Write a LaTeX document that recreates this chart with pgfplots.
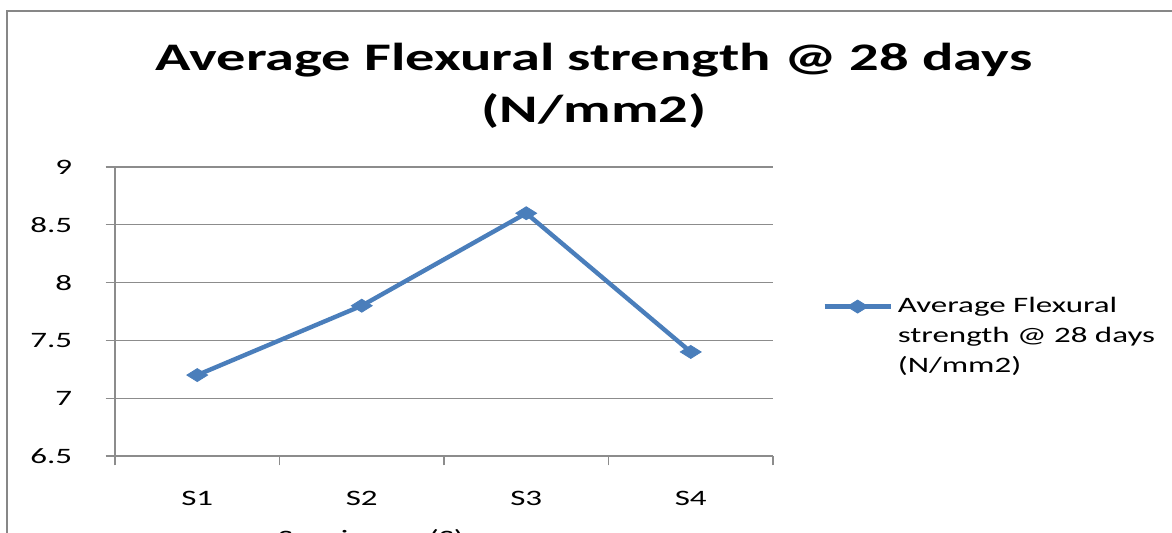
\documentclass[border=0pt]{standalone}
\usepackage{fontspec}
\setmainfont{Carlito}[FakeStretch=1.5]
\usepackage{pgfplots}
\pgfplotsset{compat=1.18}
\definecolor{excelblue}{HTML}{4A7EBB}
\definecolor{framegray}{HTML}{878787}
\definecolor{gridgray}{HTML}{8C8C8C}

\begin{document}
\begin{tikzpicture}
\useasboundingbox (0,0) rectangle (586pt,266.5pt);
\clip (0,0) rectangle (586pt,266.5pt);
% chart frame, cut off at right and bottom
\draw[framegray, line width=1.2pt] (3.5pt,-10pt) |- (600pt,261pt);
\node[anchor=north, align=center, inner sep=0pt,
      font=\bfseries\fontsize{19.5}{26}\selectfont]
  at (297pt,245pt) {Average Flexural strength @ 28 days\\(N/mm2)};

\begin{axis}[
    at={(57.5pt,38.5pt)}, anchor=south west,
    scale only axis, width=329pt, height=144.5pt,
    xmin=0.5, xmax=4.5, ymin=6.5, ymax=9,
    axis x line*=bottom, axis y line*=left,
    axis line style={gridgray, line width=0.6pt},
    xtick={0.5,1.5,2.5,3.5,4.5},
    x tick label as interval,
    xticklabels={S1,S2,S3,S4},
    ytick={6.5,7,7.5,8,8.5,9},
    tick align=outside,
    major tick length=4.75pt,
    tick style={gridgray, line width=0.6pt},
    ymajorgrids,
    grid style={gridgray, line width=0.6pt},
    /pgf/number format/assume math mode=true,
    every tick label/.append style={font=\fontsize{11}{13}\selectfont, inner sep=0pt},
    yticklabel style={xshift=-16.5pt},
    xticklabel style={yshift=-12.5pt},
    xlabel={Specimens (S)},
    xlabel style={at={(axis description cs:0.389,0)}, anchor=north,
                  yshift=-36.3pt, inner sep=0pt, font=\fontsize{11}{13}\selectfont},
    legend style={draw=none, fill=none, at={(1.0745,0.55)}, anchor=north west,
                  inner sep=0pt, column sep=2.5pt,
                  font=\fontsize{11}{15}\selectfont,
                  nodes={inner sep=0pt}, cells={align=left}},
    legend cell align=left,
    legend image code/.code={
        \draw[mark repeat=2, mark phase=2, yshift=15pt]
          plot coordinates {(0pt,0pt) (16.5pt,0pt) (33pt,0pt)};
    },
]
\addplot[excelblue, line width=2.2pt, mark=square*, mark size=2.3pt,
         mark options={xscale=1.6, rotate=45, line width=0.4pt}]
  coordinates {(1,7.2) (2,7.8) (3,8.6) (4,7.4)};
\addlegendentry{Average Flexural\\strength @ 28 days\\(N/mm2)}
\end{axis}
\end{tikzpicture}
\end{document}
